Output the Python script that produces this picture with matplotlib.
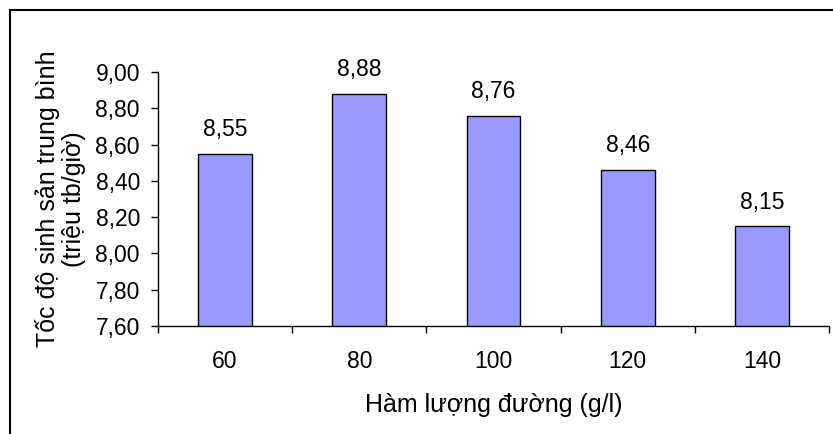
import matplotlib
matplotlib.use('Agg')
import matplotlib.pyplot as plt
from matplotlib.lines import Line2D
from matplotlib.ticker import FuncFormatter

plt.rcParams['font.family'] = ['Liberation Sans', 'DejaVu Sans']

# Sugar content levels and mean reproduction rate
sugar = ['60', '80', '100', '120', '140']
rate = [8.55, 8.88, 8.76, 8.46, 8.15]
y_ticks = [7.60, 7.80, 8.00, 8.20, 8.40, 8.60, 8.80, 9.00]

fig = plt.figure(figsize=(8.33, 4.34), dpi=100)
ax = fig.add_axes([158 / 833, 1 - 326 / 434, (829 - 158) / 833, (326 - 72) / 434])

x = list(range(len(sugar)))
ax.bar(x, rate, width=0.4, color='#9999FF', edgecolor='black', linewidth=1.0)

for xi, v in zip(x, rate):
    ax.annotate(f'{v:.2f}'.replace('.', ','), xy=(xi, v), xytext=(0, 9),
                textcoords='offset points', ha='center', va='bottom', fontsize=16.5)

ax.set_ylim(7.6, 9.0)
ax.set_xlim(-0.5, len(sugar) - 0.5)
ax.set_yticks(y_ticks)
ax.yaxis.set_major_formatter(FuncFormatter(lambda v, p: f'{v:.2f}'.replace('.', ',')))

ax.set_xticks(x)
ax.set_xticklabels(sugar)
ax.set_xticks([i - 0.5 for i in range(len(sugar) + 1)], minor=True)
ax.tick_params(axis='x', which='major', length=0, pad=17, labelsize=16.5)
ax.tick_params(axis='x', which='minor', length=5, width=1, direction='out')
ax.tick_params(axis='y', length=5, width=1, direction='out', pad=8, labelsize=16.5)

for side in ['top', 'right']:
    ax.spines[side].set_visible(False)
for side in ['left', 'bottom']:
    ax.spines[side].set_linewidth(1)

ax.set_xlabel('Hàm lượng đường (g/l)', fontsize=18, labelpad=15)
ax.set_ylabel('Tốc độ sinh sản trung bình\n(triệu tb/giờ)', fontsize=18,
              linespacing=1.1)
ax.yaxis.set_label_coords((86 - 158) / 671, 0.5)

# frame around the chart area
fig.add_artist(Line2D([10 / 833, 10 / 833], [0, 1 - 10 / 434], color='black', lw=1.5,
                      transform=fig.transFigure))
fig.add_artist(Line2D([10 / 833, 1], [1 - 10 / 434, 1 - 10 / 434], color='black', lw=1.5,
                      transform=fig.transFigure))

fig.savefig('out.png', dpi=100)
